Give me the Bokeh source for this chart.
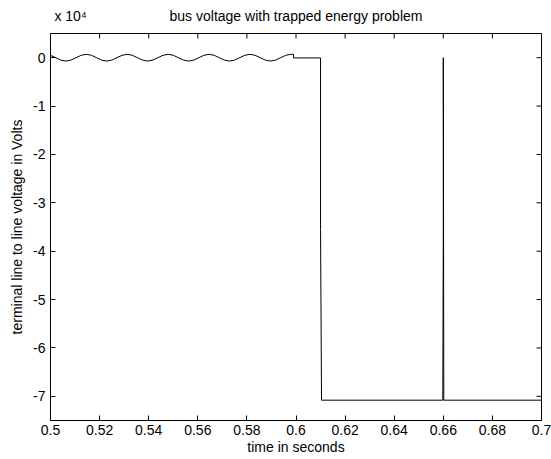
import math
from bokeh.plotting import figure
from bokeh.models import Range1d, FixedTicker, LinearAxis
from bokeh.embed import file_html
from bokeh.resources import INLINE

# ---- data (time in s, voltage in V) ----
t_values = [
    0.50000, 0.50208, 0.50417, 0.50625, 0.50833, 0.51042, 0.51250, 0.51458,
    0.51667, 0.51875, 0.52083, 0.52292, 0.52500, 0.52708, 0.52917, 0.53125,
    0.53333, 0.53542, 0.53750, 0.53958, 0.54167, 0.54375, 0.54583, 0.54792,
    0.55000, 0.55208, 0.55417, 0.55625, 0.55833, 0.56042, 0.56250, 0.56458,
    0.56667, 0.56875, 0.57083, 0.57292, 0.57500, 0.57708, 0.57917, 0.58125,
    0.58333, 0.58542, 0.58750, 0.58958, 0.59167, 0.59375, 0.59583, 0.59792,
    0.59900, 0.59900, 0.61000, 0.61000, 0.61040, 0.65980, 0.66000, 0.66000,
    0.66020, 0.70000,
]
v_values = [
    495, 0, -495, -700, -495, 0, 495, 700,
    495, 0, -495, -700, -495, 0, 495, 700,
    495, 0, -495, -700, -495, 0, 495, 700,
    495, 0, -495, -700, -495, 0, 495, 700,
    495, 0, -495, -700, -495, 0, 495, 700,
    495, 0, -495, -700, -495, 0, 495, 700,
    700, -50, -50, -35500, -70800, -70800, -35500, 0,
    -70800, -70800,
]

x_ticks = [0.5, 0.52, 0.54, 0.56, 0.58, 0.6, 0.62, 0.64, 0.66, 0.68, 0.7]
x_tick_labels = ["0.5", "0.52", "0.54", "0.56", "0.58", "0.6", "0.62", "0.64", "0.66", "0.68", "0.7"]
y_ticks = [0, -10000, -20000, -30000, -40000, -50000, -60000, -70000]
y_tick_labels = ["0", "-1", "-2", "-3", "-4", "-5", "-6", "-7"]

title_text = "bus voltage with trapped energy problem"
x_label = "time in seconds"
y_label = "terminal line to line voltage in Volts"
exponent_text = "x 10\u2074"

FONT = "Liberation Sans"
FS = "14px"

x_start, x_end = 0.5, 0.7
y_start, y_end = -75000, 5000

p = figure(width=551, height=459, output_backend="svg", toolbar_location=None,
           x_range=Range1d(x_start, x_end), y_range=Range1d(y_start, y_end),
           min_border_left=50, min_border_right=10, min_border_top=33, min_border_bottom=39)

p.background_fill_color = "white"
p.border_fill_color = "white"
p.outline_line_color = "black"
p.outline_line_width = 1
p.xgrid.visible = False
p.ygrid.visible = False

p.line(t_values, v_values, line_color="black", line_width=1)

# tick marks on the top and right edges of the box (MATLAB style)
p.ray(x=x_ticks, y=[y_end] * len(x_ticks), length=5, length_units="screen",
      angle=-math.pi / 2, line_color="black", line_width=1)
p.ray(x=[x_end] * len(y_ticks), y=y_ticks, length=5, length_units="screen",
      angle=math.pi, line_color="black", line_width=1)

def style_axis(ax):
    ax.major_tick_in = 5
    ax.major_tick_out = 0
    ax.minor_tick_line_color = None
    ax.axis_line_color = "black"
    ax.major_tick_line_color = "black"
    ax.major_label_text_font = FONT
    ax.major_label_text_font_size = FS
    ax.major_label_text_color = "black"
    ax.axis_label_text_font = FONT
    ax.axis_label_text_font_size = FS
    ax.axis_label_text_font_style = "normal"
    ax.axis_label_text_color = "black"

xa = p.xaxis[0]
xa.ticker = FixedTicker(ticks=x_ticks)
xa.major_label_overrides = dict(zip(x_ticks, x_tick_labels))
xa.axis_label = x_label
style_axis(xa)
xa.major_label_standoff = 4
xa.axis_label_standoff = 1

ya = p.yaxis[0]
ya.ticker = FixedTicker(ticks=y_ticks)
ya.major_label_overrides = dict(zip(y_ticks, y_tick_labels))
ya.axis_label = y_label
style_axis(ya)
ya.major_label_standoff = 5
ya.axis_label_standoff = 5

# title row above the box: "x 10^4" at the left and the title centred,
# both on one baseline (as MATLAB draws them)
x_span = x_end - x_start
exp_pos = x_start + 0.041 * x_span
title_pos = x_start + 0.5 * x_span
top = LinearAxis(ticker=FixedTicker(ticks=[exp_pos, title_pos]))
top.major_label_overrides = {exp_pos: exponent_text, title_pos: title_text}
top.major_label_text_font = FONT
top.major_label_text_font_size = FS
top.major_label_text_color = "black"
top.major_tick_line_color = None
top.minor_tick_line_color = None
top.axis_line_color = None
top.major_tick_in = 0
top.major_tick_out = 0
top.major_label_standoff = 10
p.add_layout(top, "above")

open("out.html", "w").write(file_html(p, INLINE))
